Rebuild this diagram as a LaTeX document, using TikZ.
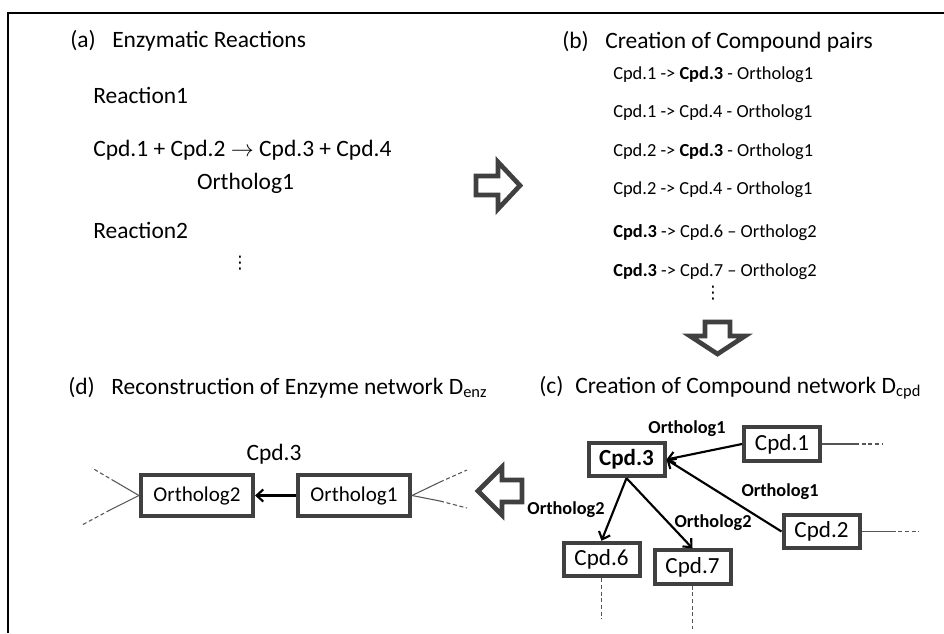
\documentclass[tikz,border=0pt]{standalone}
\usepackage{fontspec}
\setmainfont{Carlito}
\newfontfamily\symfont{DejaVu Sans}
\usetikzlibrary{arrows.meta,positioning}
\definecolor{boxgrey}{RGB}{64,64,64}
\definecolor{tailgrey}{RGB}{85,85,85}

\begin{document}
\begin{tikzpicture}[
    x=0.75pt, y=-0.75pt,
    title/.style={inner sep=0pt, font=\fontsize{17.6}{20}\selectfont, anchor=base west},
    pair/.style={inner sep=0pt, font=\fontsize{13.8}{16}\selectfont, anchor=base west},
    dots/.style={inner sep=0pt, font=\symfont\fontsize{13}{15}\selectfont},
    cpd/.style={rectangle, draw=boxgrey, line width=3pt, minimum width=57pt, minimum height=25pt, inner sep=0pt, font=\fontsize{17.3}{20}\selectfont},
    enz/.style={cpd, minimum width=84pt, minimum height=31pt, font=\fontsize{15.8}{18}\selectfont},
    lbl/.style={inner sep=0pt, anchor=base, font=\bfseries\fontsize{13.7}{16}\selectfont},
    arrow/.style={-{Straight Barb[length=5pt,width=9pt]}, line width=1.6pt},
    tail/.style={draw=tailgrey, line width=0.8pt},
    dtail/.style={tail, dash pattern=on 3pt off 2pt},
    blockarrow/.style={draw=boxgrey, line width=3.5pt, line join=miter, fill=white}
]
\useasboundingbox (0,0) rectangle (944,633);

% frame
\draw[line width=1.5pt] (8,633) -- (8,13) -- (944,13);

% (a) reactions
\node[title] (alab) at (70,47.7) {(a)};
\node[title] (atitle) at (112,47.7) {Enzymatic Reactions};
\node[title] (reac1) at (93,103) {Reaction1};
\node[title] (eq) at (93,156) {Cpd.1 + Cpd.2 $\rightarrow$ Cpd.3 + Cpd.4};
\node[title, anchor=base] (eqorth) at (245.5,189) {Ortholog1};
\node[title] (reac2) at (93,238) {Reaction2};
\node[dots] (adots) at (240,263.5) {⋮};

% (b) compound pairs
\node[title] (blab) at (562,48) {(b)};
\node[title] (btitle) at (605,48) {Creation of Compound pairs};
\node[pair] (p1) at (613,79) {Cpd.1 -> \textbf{Cpd.3} - Ortholog1};
\node[pair] (p2) at (613,117) {Cpd.1 -> Cpd.4 - Ortholog1};
\node[pair] (p3) at (613,156) {Cpd.2 -> \textbf{Cpd.3} - Ortholog1};
\node[pair] (p4) at (613,194) {Cpd.2 -> Cpd.4 - Ortholog1};
\node[pair] (p5) at (613,237) {\textbf{Cpd.3} -> Cpd.6 -- Ortholog2};
\node[pair] (p6) at (613,276) {\textbf{Cpd.3} -> Cpd.7 -- Ortholog2};
\node[dots] (bdots) at (713,293) {⋮};

% block arrows
\draw[blockarrow] (476,176) -- (498,176) -- (498,162) -- (520,185.5) -- (498,209) -- (498,195) -- (476,195) -- cycle;
\draw[blockarrow] (705,322) -- (730,322) -- (730,336) -- (745,336) -- (717.5,354) -- (690,336) -- (705,336) -- cycle;
\draw[blockarrow] (522,480) -- (502,480) -- (502,467) -- (478,491) -- (502,515) -- (502,502) -- (522,502) -- cycle;

% (c) compound network
\node[title] (clab) at (539,393) {(c)};
\node[title] (ctitle) at (575,393) {Creation of Compound network D\textsubscript{cpd}};
\node[cpd, font=\bfseries\fontsize{17.3}{20}\selectfont] (cpd3) at (626.5,459.5) {Cpd.3};
\node[cpd] (cpd1) at (782,444) {Cpd.1};
\node[cpd] (cpd2) at (821.5,531.5) {Cpd.2};
\node[cpd] (cpd6) at (601.5,559.5) {Cpd.6};
\node[cpd] (cpd7) at (692.5,567) {Cpd.7};

\draw[arrow] (cpd1.west) -- (cpd3.east);
\draw[arrow] (cpd2.west) -- (cpd3.east);
\draw[arrow] (cpd3.south) -- (cpd6.north);
\draw[arrow] (cpd3.south) -- (cpd7.north);
\node[lbl] (l13) at (687,433) {Ortholog1};
\node[lbl] (l23) at (780,496) {Ortholog1};
\node[lbl] (l36) at (566,514) {Ortholog2};
\node[lbl] (l37) at (713,527) {Ortholog2};

\draw[tail] (cpd1.east) -- ++(33,0) coordinate (t1);
\draw[dtail] (t1) -- ++(27,0);
\draw[tail] (cpd2.east) -- ++(30,0) coordinate (t2);
\draw[dtail] (t2) -- ++(27,0);
\draw[dtail] (cpd6.south) -- ++(0,41);
\draw[dtail] (cpd7.south) -- ++(0,43);

% (d) enzyme network
\node[title] (dlab) at (68,394) {(d)};
\node[title] (dtitle) at (111,394) {Reconstruction of Enzyme network D\textsubscript{enz}};
\node[enz] (orth2) at (197,495.5) {Ortholog2};
\node[enz] (orth1) at (354,495.5) {Ortholog1};
\node[title, anchor=base] (dcpd) at (274,460) {Cpd.3};
\draw[arrow] (orth1) -- (orth2);

\coordinate (o2m1) at (115,481.5);
\coordinate (o2e1) at (92,468);
\coordinate (o2m2) at (110,510);
\coordinate (o2e2) at (82,525);
\coordinate (o1m1) at (440,482);
\coordinate (o1e1) at (467,470);
\coordinate (o1m2) at (440,501);
\coordinate (o1e2) at (467,508);
\draw[tail] (orth2.west) -- (o2m1);
\draw[dtail] (o2m1) -- (o2e1);
\draw[tail] (orth2.west) -- (o2m2);
\draw[dtail] (o2m2) -- (o2e2);
\draw[tail] (orth1.east) -- (o1m1);
\draw[dtail] (o1m1) -- (o1e1);
\draw[tail] (orth1.east) -- (o1m2);
\draw[dtail] (o1m2) -- (o1e2);

\end{tikzpicture}
\end{document}
